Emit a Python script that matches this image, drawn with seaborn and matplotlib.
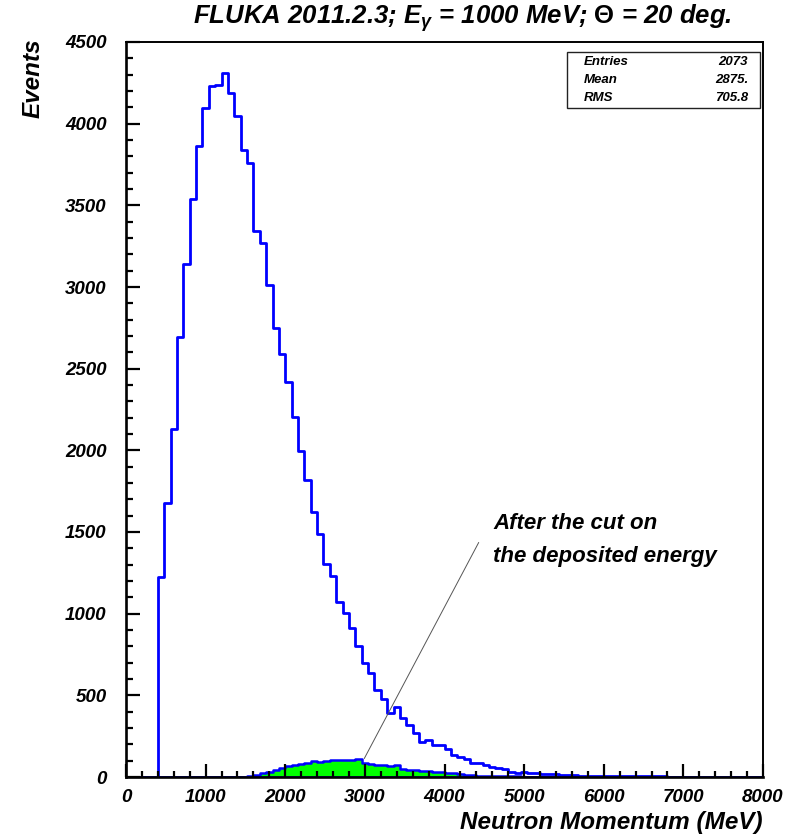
import numpy as np
import pandas as pd
import matplotlib
matplotlib.use("Agg")
import matplotlib.pyplot as plt
from matplotlib.ticker import MultipleLocator
from matplotlib.patches import Rectangle
import seaborn as sns

# ---------------- data ----------------
bin_edges = list(range(0, 8001, 80))  # 100 bins of 80 MeV

all_counts = [
    0, 0, 0, 0, 0,
    1225, 1678, 2131, 2692, 3141, 3541, 3863, 4094, 4233, 4237,
    4308, 4190, 4047, 3839, 3757, 3342, 3268, 3015, 2746, 2592,
    2421, 2204, 1996, 1817, 1625, 1485, 1305, 1229, 1070, 1005,
    914, 803, 695, 639, 532, 476, 394, 427, 359, 318,
    268, 216, 227, 196, 196, 170, 135, 124, 110, 88,
    84, 73, 59, 53, 47, 32, 23, 29, 23, 22,
    21, 18, 16, 12, 12, 11, 9, 8, 8, 7,
    6, 6, 5, 5, 5, 5, 4, 4, 4, 4,
    3, 3, 3, 3, 3, 2, 2, 2, 2, 2,
    2, 1, 1, 1, 1,
]

cut_counts = [
    0, 0, 0, 0, 0, 0, 0, 0, 0, 0, 0, 0, 0, 0, 0, 0,
    1, 2, 3, 5,
    12, 22, 33, 45, 55, 68, 75, 82, 84, 96,
    90, 98, 104, 106, 104, 104, 113, 85, 80, 72,
    72, 70, 72, 50, 44, 42, 38, 34, 32, 31,
    23, 22, 17, 13, 11, 9, 8, 7, 6, 5,
    4, 4, 3, 3, 2, 2, 2, 1, 1, 1,
    1,
    0, 0, 0, 0, 0, 0, 0, 0, 0, 0, 0, 0, 0, 0, 0, 0, 0, 0, 0, 0,
    0, 0, 0, 0, 0, 0, 0, 0, 0,
]

stat_labels = ["Entries", "Mean", "RMS"]
stat_values = ["2073", "2875.", "705.8"]

title_text = r"FLUKA 2011.2.3; E$_{\gamma}$ = 1000 MeV; $\mathrm{\Theta}$ = 20 deg."
xlabel_text = "Neutron Momentum (MeV)"
ylabel_text = "Events"
note_lines = ["After the cut on", "the deposited energy"]

# ---------------- styling ----------------
sns.set_theme(style="ticks")
plt.rcParams["font.family"] = ["Liberation Sans", "DejaVu Sans"]
plt.rcParams["font.weight"] = "bold"
plt.rcParams["font.style"] = "italic"
plt.rcParams["text.color"] = "black"
plt.rcParams["axes.labelcolor"] = "black"
plt.rcParams["xtick.color"] = "black"
plt.rcParams["ytick.color"] = "black"
plt.rcParams["mathtext.fontset"] = "custom"
plt.rcParams["mathtext.rm"] = "Liberation Sans:style=normal:weight=bold"
plt.rcParams["mathtext.it"] = "Liberation Sans:style=italic:weight=bold"
plt.rcParams["mathtext.bf"] = "Liberation Sans:style=normal:weight=bold"

edges = [float(e) for e in bin_edges]
centers = [(edges[i] + edges[i + 1]) / 2 for i in range(len(edges) - 1)]
df_all = pd.DataFrame({"p": centers, "w": all_counts})
df_cut = pd.DataFrame({"p": centers, "w": cut_counts})

fig = plt.figure(figsize=(7.99, 8.40), dpi=100)
ax = fig.add_axes([126 / 799, 1 - 777 / 840, (763 - 126) / 799, (777 - 42) / 840])

sns.histplot(data=df_cut, x="p", weights="w", bins=edges, element="step",
             fill=True, color="#00ff00", alpha=1.0, edgecolor="#0000ff",
             linewidth=1.8, ax=ax)
sns.histplot(data=df_all, x="p", weights="w", bins=edges, element="step",
             fill=False, color="#0000ff", linewidth=2.0, ax=ax)

ax.set_xlim(0, 8000)
ax.set_ylim(0, 4500)
ax.set_xlabel("")
ax.set_ylabel("")
ax.xaxis.set_major_locator(MultipleLocator(1000))
ax.xaxis.set_minor_locator(MultipleLocator(200))
ax.yaxis.set_major_locator(MultipleLocator(500))
ax.yaxis.set_minor_locator(MultipleLocator(100))
ax.set_axisbelow(False)

ax.tick_params(axis="x", which="major", direction="in", length=9.5, width=1.6,
               pad=9, labelsize=13.5, colors="black", top=False)
ax.tick_params(axis="x", which="minor", direction="in", length=4.5, width=1.6,
               colors="black", top=False)
ax.tick_params(axis="y", which="major", direction="in", length=10, width=1.6,
               pad=14, labelsize=13.5, colors="black", right=False)
ax.tick_params(axis="y", which="minor", direction="in", length=5, width=1.6,
               colors="black", right=False)
for lab in ax.get_xticklabels() + ax.get_yticklabels():
    lab.set_fontweight("bold")
    lab.set_fontstyle("italic")
    lab.set_color("black")

for side, sp in ax.spines.items():
    sp.set_visible(True)
    sp.set_color("black")
    sp.set_linewidth(1.9 if side in ("left", "bottom") else 1.4)

# annotation
ax.annotate("", xy=(2976, 98), xytext=(4446, 1451),
            arrowprops=dict(arrowstyle="-", color="#555555", lw=0.7))
ax.text(4609, 1549, note_lines[0], fontsize=16, fontweight="bold",
        fontstyle="italic", va="center", ha="left", color="black")
ax.text(4609, 1347, note_lines[1], fontsize=16, fontweight="bold",
        fontstyle="italic", va="center", ha="left", color="black")

# stats box
fig.patches.append(Rectangle((567 / 799, 1 - 108 / 840), (760 - 567) / 799,
                             (108 - 52) / 840, transform=fig.transFigure,
                             facecolor="white", edgecolor="#222222", lw=1.0,
                             zorder=5))
for i, (lab, val) in enumerate(zip(stat_labels, stat_values)):
    yy = 1 - (62 + 18 * i) / 840
    fig.text(584 / 799, yy, lab, fontsize=9.5, fontweight="bold",
             fontstyle="italic", ha="left", va="center", zorder=6, color="black")
    fig.text(748 / 799, yy, val, fontsize=9.5, fontweight="bold",
             fontstyle="italic", ha="right", va="center", zorder=6, color="black")

# title and axis labels
fig.text(462 / 799, 1 - 18 / 840, title_text, fontsize=18.5, fontweight="bold",
         fontstyle="italic", ha="center", va="center", color="black")
fig.text(763 / 799, 1 - 822 / 840, xlabel_text, fontsize=17.5, fontweight="bold",
         fontstyle="italic", ha="right", va="center", color="black")
fig.text(33 / 799, 1 - 38 / 840, ylabel_text, fontsize=17.5, fontweight="bold",
         fontstyle="italic", ha="center", va="top", rotation=90, color="black")

fig.savefig("out.png", dpi=100)
